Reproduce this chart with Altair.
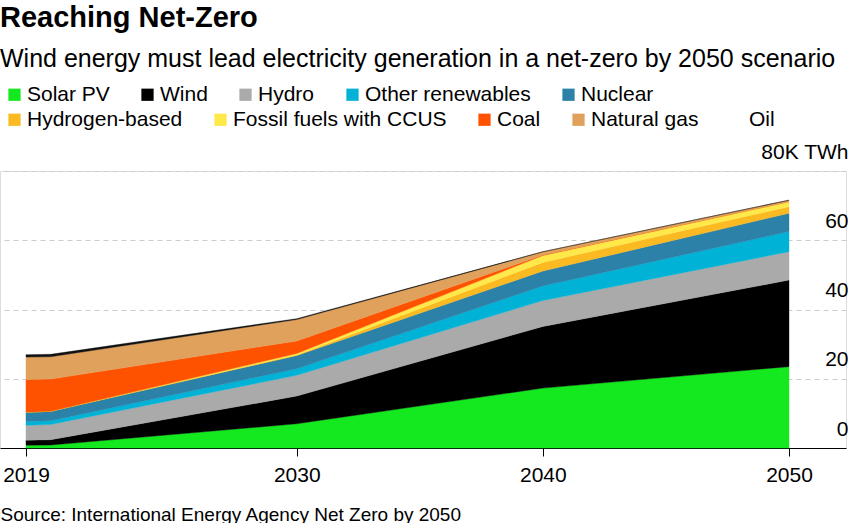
import altair as alt
import pandas as pd

years = [2019, 2020, 2030, 2040, 2050]
sources = ["Solar PV", "Wind", "Hydro", "Other renewables", "Nuclear",
           "Hydrogen-based", "Fossil fuels with CCUS", "Coal", "Natural gas", "Oil"]
colors = ["#14e81e", "#000000", "#aaaaaa", "#00b3d6", "#2c81a8",
          "#fbb922", "#ffe94a", "#ff5200", "#e0a15c", "#111111"]
legend_row1 = sources[:5]
legend_row2 = sources[5:]
legend_colors1 = colors[:5]
legend_colors2 = colors[5:9] + ["#ffffff"]

# thousand TWh
solar_pv = [0.80, 0.85, 7.0, 17.3, 23.5]
wind = [1.45, 1.55, 8.0, 17.8, 25.0]
hydro = [4.30, 4.40, 6.0, 7.5, 8.2]
other_renewables = [1.10, 1.10, 1.9, 4.2, 5.8]
nuclear = [2.70, 2.70, 3.8, 4.3, 5.3]
hydrogen_based = [0.0, 0.0, 0.15, 2.5, 1.9]
fossil_ccus = [0.0, 0.0, 0.45, 2.0, 1.45]
coal = [9.40, 9.30, 3.6, 0.15, 0.0]
natural_gas = [6.50, 6.45, 6.2, 0.9, 0.4]
oil = [0.70, 0.70, 0.25, 0.05, 0.03]

series = [solar_pv, wind, hydro, other_renewables, nuclear,
          hydrogen_based, fossil_ccus, coal, natural_gas, oil]

rows = []
for i, (name, vals) in enumerate(zip(sources, series)):
    for y, v in zip(years, vals):
        rows.append({"year": y, "source": name, "value": v, "ord": i})
df = pd.DataFrame(rows)

FONT = "Liberation Sans"

x_enc = alt.X("year:Q",
              scale=alt.Scale(domain=[2017.944, 2052.316], nice=False, zero=False),
              axis=alt.Axis(values=[2019, 2030, 2040, 2050], format="d",
                            grid=False, domainColor="#000000", domainWidth=1,
                            tickColor="#000000", tickSize=8, tickWidth=1,
                            labelFontSize=21, labelColor="#000000", labelPadding=8,
                            labelFont=FONT,
                            title="Source: International Energy Agency Net Zero by 2050",
                            titleFont=FONT, titleFontSize=19, titleFontWeight="normal",
                            titleColor="#000000", titleAnchor="start", titleAlign="left",
                            titleBaseline="alphabetic", titleX=0, titleY=72))
y_enc = alt.Y("value:Q", stack="zero",
              scale=alt.Scale(domain=[0, 80], nice=False),
              axis=alt.Axis(orient="right", values=[0, 20, 40, 60, 80], title=None,
                            domain=False, ticks=False, tickSize=0,
                            labelAlign="right", labelPadding=2,
                            labelBaseline="alphabetic", labelOffset=-13,
                            labelFontSize=21, labelColor="#000000", labelFont=FONT,
                            labelExpr="datum.value == 80 ? '80K TWh' : datum.label",
                            grid=True, gridColor="#cccccc", gridDash=[5, 4],
                            gridWidth=1))

areas = alt.Chart(df).mark_area(interpolate="linear", strokeWidth=0.4).encode(
    x=x_enc,
    y=y_enc,
    color=alt.Color("source:N", scale=alt.Scale(domain=sources, range=colors),
                    sort=sources, legend=None),
    stroke=alt.Color("source:N", scale=alt.Scale(domain=sources, range=colors),
                     legend=None),
    order=alt.Order("ord:Q", sort="ascending"),
)

def legend_args(ly):
    return dict(title=None, orient="none", legendX=4, legendY=ly,
                direction="horizontal", symbolType="square", symbolSize=150,
                symbolStrokeWidth=0, symbolOpacity=1,
                labelFontSize=21, labelFont=FONT, labelColor="#000000",
                labelOffset=2, columnPadding=27, labelLimit=400, padding=0)

legend_layer1 = alt.Chart(df).transform_filter(
    alt.FieldOneOfPredicate(field="source", oneOf=legend_row1)
).mark_square(size=0, opacity=0).encode(
    x=alt.X("year:Q"),
    y=alt.Y("value:Q", stack=None),
    fill=alt.Fill("source:N",
                  scale=alt.Scale(domain=legend_row1, range=legend_colors1),
                  sort=legend_row1,
                  legend=alt.Legend(**legend_args(-87))),
)

legend_layer2 = alt.Chart(df).transform_filter(
    alt.FieldOneOfPredicate(field="source", oneOf=legend_row2)
).mark_square(size=0, opacity=0, filled=True).encode(
    x=alt.X("year:Q"),
    y=alt.Y("value:Q", stack=None),
    color=alt.Color("source:N",
                    scale=alt.Scale(domain=legend_row2, range=legend_colors2),
                    sort=legend_row2,
                    legend=alt.Legend(**legend_args(-62))),
)

chart = alt.layer(areas, legend_layer1, legend_layer2).resolve_scale(
    color="independent", fill="independent"
).properties(
    width=846,
    height=277,
    title=alt.TitleParams(
        text="Reaching Net-Zero",
        subtitle="Wind energy must lead electricity generation in a net-zero by 2050 scenario",
        anchor="start", frame="group", font=FONT, fontSize=29, fontWeight="bold",
        color="#000000", subtitleFont=FONT, subtitleFontSize=25,
        subtitleColor="#000000", subtitlePadding=14, offset=12),
    padding={"left": 0, "top": 4, "right": 0, "bottom": 0},
).configure_view(stroke=None).configure(background="#ffffff")

chart.save("out.html", embed_options={"renderer": "svg", "actions": False})
